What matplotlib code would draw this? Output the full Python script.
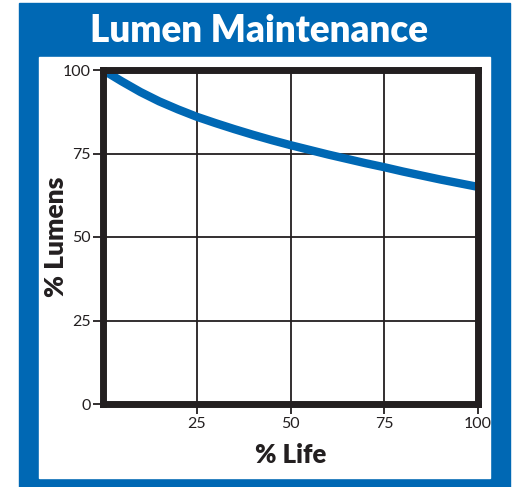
import matplotlib
matplotlib.use("Agg")
import matplotlib.pyplot as plt
from matplotlib.patches import Rectangle

life = [0, 5, 10, 15, 20, 25, 30, 35, 40, 45, 50, 55, 60, 65, 70, 75, 80, 85, 90, 95, 100]
lumens = [100, 96.6, 93.4, 90.6, 88.2, 86.0, 84.1, 82.3, 80.6, 79.0, 77.5,
          76.1, 74.7, 73.4, 72.1, 70.9, 69.6, 68.4, 67.2, 66.1, 65.0]
xticks = [25, 50, 75, 100]
yticks = [0, 25, 50, 75, 100]

BLUE = "#0068B4"
INK = "#231F20"
W, H = 516, 487
fig = plt.figure(figsize=(W / 100, H / 100), dpi=100)
fig.patch.set_facecolor("white")

def px(x0, y0, x1, y1):
    return (x0 / W, 1 - y1 / H), (x1 - x0) / W, (y1 - y0) / H

xy, w, h = px(19, 3, 510, 487)
fig.patches.append(Rectangle(xy, w, h, transform=fig.transFigure, color=BLUE, zorder=-10))
xy, w, h = px(39, 57, 490, 478)
fig.patches.append(Rectangle(xy, w, h, transform=fig.transFigure, color="white", zorder=-9))

fig.text(259 / W, 1 - 31 / H, "Lumen Maintenance", color="white", fontsize=26.5,
         fontweight="heavy", ha="center", va="center", family="Lato")

ax = fig.add_axes([103 / W, 1 - 404 / H, (478 - 103) / W, (404 - 70) / H])
ax.set_zorder(1)
ax.set_facecolor("white")
ax.plot(life, lumens, color=BLUE, lw=6, solid_capstyle="butt", zorder=3)
ax.set_xlim(0, 100)
ax.set_ylim(0, 100)
ax.set_xticks(xticks)
ax.set_yticks(yticks)
ax.grid(True, color=INK, lw=1.3)
for s in ax.spines.values():
    s.set_linewidth(5)
    s.set_color(INK)
    s.set_zorder(4)
ax.tick_params(axis="both", length=7, width=1.3, color=INK, labelsize=11.5,
               labelcolor=INK, pad=2)
for lab in ax.get_xticklabels() + ax.get_yticklabels():
    lab.set_family("Lato")
    lab.set_fontweight("normal")
ax.set_xlabel("% Life", fontsize=18.5, fontweight="heavy", family="Lato", color=INK, labelpad=9)
ax.set_ylabel("% Lumens", fontsize=19, fontweight="heavy", family="Lato", color=INK)
ax.yaxis.set_label_coords(-0.092, 0.5)

fig.savefig("out.png", dpi=100)
